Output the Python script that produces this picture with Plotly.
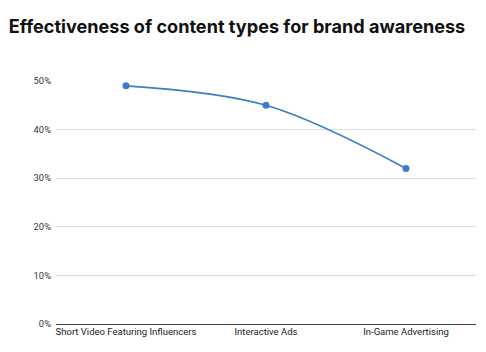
import plotly.graph_objects as go

categories = ["Short Video Featuring Influencers", "Interactive Ads", "In-Game Advertising"]
values = [0.49, 0.45, 0.32]
y_ticks = [0, 0.1, 0.2, 0.3, 0.4, 0.5]
y_tick_labels = ["0%", "10%", "20%", "30%", "40%", "50%"]
title = "Effectiveness of content types for brand awareness"

fig = go.Figure(go.Scatter(
    x=categories, y=values, mode="lines+markers",
    line=dict(color="#3a7ec6", width=1.6, shape="spline", smoothing=1),
    marker=dict(color="#3a7ec6", size=7),
    hoverinfo="skip",
))

fig.update_layout(
    width=486, height=352,
    margin=dict(l=56, r=10, t=81, b=28),
    paper_bgcolor="white", plot_bgcolor="white",
    showlegend=False,
    title=dict(text="<b>" + title + "</b>", x=0.018, xanchor="left", y=0.923, yanchor="middle",
               font=dict(family="Inter", size=18.1, color="#111111")),
    font=dict(family="Roboto", size=9.4, color="#333333"),
)
fig.update_xaxes(
    showgrid=False, showline=False, ticks="", tickfont=dict(size=9.5, color="#222222"),
    range=[-0.5, 2.5], fixedrange=True,
)
fig.update_yaxes(
    range=[0, 0.5], tickvals=y_ticks, ticktext=y_tick_labels,
    showgrid=True, gridcolor="#dddddd", gridwidth=1,
    zeroline=True, zerolinecolor="#444444", zerolinewidth=1.2,
    showline=False, ticks="", ticklabelstandoff=4,
    tickfont=dict(size=9.4, color="#333333"), fixedrange=True,
)

fig.write_html("out.html")
